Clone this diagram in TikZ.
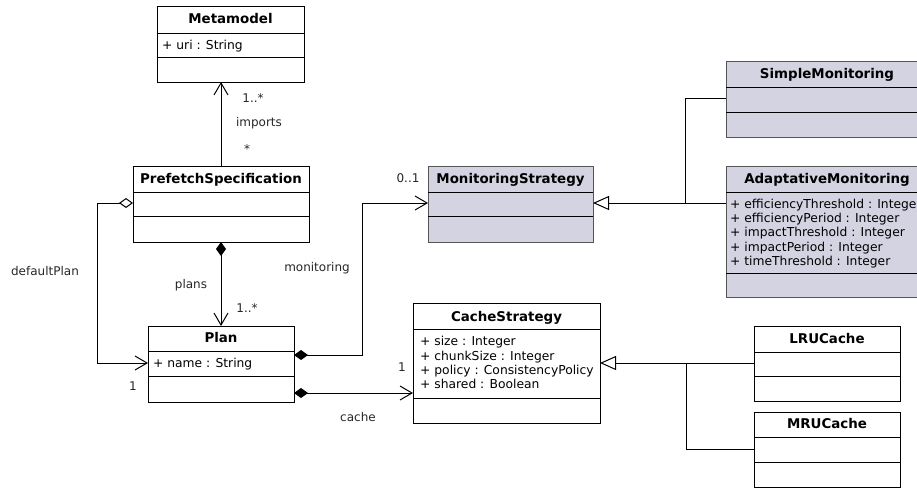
\documentclass[tikz,border=0pt]{standalone}
\usepackage{fontspec}
\setmainfont{DejaVu Sans}
\usetikzlibrary{arrows.meta,calc}
\definecolor{lav}{RGB}{211,211,226}
\definecolor{edgegray}{RGB}{85,85,85}
\tikzset{
  cls/.style={draw=black, line width=1pt, anchor=north west, inner sep=0pt, outer sep=0pt},
  colcls/.style={cls, draw=edgegray, fill=lav},
  divider/.style={line width=1pt},
  ttl/.style={font=\fontsize{13.4}{16}\selectfont\bfseries, anchor=base, inner sep=0pt},
  attr/.style={font=\fontsize{12.3}{14.4}\selectfont, anchor=base west, inner sep=0pt},
  lbl/.style={font=\fontsize{12}{14.4}\selectfont, anchor=base, inner sep=0pt, text=black!85},
  conn/.style={line width=1pt},
  navarr/.style={-{Straight Barb[length=12pt,width=14pt,line width=1pt]}},
  compos/.style={{Diamond[length=14pt,width=10pt]}-{Straight Barb[length=12pt,width=14pt,line width=1pt]}},
  aggreg/.style={{Diamond[open,length=14pt,width=10pt,line width=1pt]}-{Straight Barb[length=12pt,width=14pt,line width=1pt]}},
  genline/.style={{Triangle[open,length=16pt,width=14pt,line width=1pt]}-},
}
\begin{document}
\begin{tikzpicture}[x=1pt,y=-1pt]
\useasboundingbox (0,0) rectangle (917,491);
\clip (0,0) rectangle (917,491);

% ---- Metamodel
\node[cls, minimum width=147pt, minimum height=76pt] (meta) at (157,6) {};
\draw[divider] (157,33) -- (304,33);
\draw[divider] (157,57) -- (304,57);
\node[ttl] (metat) at (230.5,23.9) {Metamodel};
\node[attr] (metaa) at (162,49.4) {+ uri : String};

% ---- PrefetchSpecification
\node[cls, minimum width=176pt, minimum height=76pt] (pref) at (133,166) {};
\draw[divider] (133,192) -- (309,192);
\draw[divider] (133,216) -- (309,216);
\node[ttl] (preft) at (221,183.9) {PrefetchSpecification};

% ---- Plan
\node[cls, minimum width=146pt, minimum height=76pt] (plan) at (148,326) {};
\draw[divider] (148,351) -- (294,351);
\draw[divider] (148,376) -- (294,376);
\node[ttl] (plant) at (221,342.9) {Plan};
\node[attr] (plana) at (153,367.4) {+ name : String};

% ---- MonitoringStrategy
\node[colcls, minimum width=165pt, minimum height=76pt] (ms) at (428,166) {};
\draw[divider] (428,192) -- (593,192);
\draw[divider] (428,216) -- (593,216);
\node[ttl] (mst) at (510.5,183.9) {MonitoringStrategy};

% ---- SimpleMonitoring
\node[colcls, minimum width=202pt, minimum height=76pt] (sm) at (726,61) {};
\draw[divider] (726,87) -- (928,87);
\draw[divider] (726,112) -- (928,112);
\node[ttl] (smt) at (827,78.9) {SimpleMonitoring};

% ---- AdaptativeMonitoring
\node[colcls, minimum width=202pt, minimum height=131pt] (am) at (726,166) {};
\draw[divider] (726,192) -- (928,192);
\draw[divider] (726,273) -- (928,273);
\node[ttl] (amt) at (827,183.9) {AdaptativeMonitoring};
\node[attr] (ama1) at (730,208.4) {+ efficiencyThreshold : Integer};
\node[attr] (ama2) at (730,222.6) {+ efficiencyPeriod : Integer};
\node[attr] (ama3) at (730,236.8) {+ impactThreshold : Integer};
\node[attr] (ama4) at (730,251.0) {+ impactPeriod : Integer};
\node[attr] (ama5) at (730,265.2) {+ timeThreshold : Integer};

% ---- CacheStrategy
\node[cls, minimum width=187pt, minimum height=120pt] (cs) at (413,303) {};
\draw[divider] (413,329) -- (600,329);
\draw[divider] (413,398) -- (600,398);
\node[ttl] (cst) at (506.5,321.9) {CacheStrategy};
\node[attr] (csa1) at (420,345.6) {+ size : Integer};
\node[attr] (csa2) at (420,360.0) {+ chunkSize : Integer};
\node[attr] (csa3) at (420,374.4) {+ policy : ConsistencyPolicy};
\node[attr] (csa4) at (420,388.8) {+ shared : Boolean};

% ---- LRUCache
\node[cls, minimum width=146pt, minimum height=75pt] (lru) at (754,326) {};
\draw[divider] (754,352) -- (900,352);
\draw[divider] (754,376) -- (900,376);
\node[ttl] (lrut) at (827,343.9) {LRUCache};

% ---- MRUCache
\node[cls, minimum width=146pt, minimum height=75pt] (mru) at (754,412) {};
\draw[divider] (754,437) -- (900,437);
\draw[divider] (754,462) -- (900,462);
\node[ttl] (mrut) at (827,428.9) {MRUCache};

% ---- connectors
% imports
\draw[conn, navarr] (pref.north) -- (pref.north |- meta.south);
\node[lbl] (imp1) at (253,102.4) {1..*};
\node[lbl] (impl) at (259,126.4) {imports};
\node[lbl] (imp2) at (247,153) {*};

% defaultPlan
\draw[conn, aggreg] ($(pref.north west)+(0,37)$) -- ++(-36,0) |- ($(plan.north west)+(0,37)$);
\node[lbl] (dpl) at (45,275.4) {defaultPlan};
\node[lbl] (dp1) at (133,390.4) {1};

% plans
\draw[conn, compos] (pref.south) -- (plan.north);
\node[lbl] (pll) at (191,288.4) {plans};
\node[lbl] (pl1) at (247,312.4) {1..*};

% monitoring
\draw[conn, compos] ($(plan.north east)+(0,29)$) -- ++(68,0) |- ($(ms.north west)+(0,37)$);
\node[lbl] (mol) at (317,271.4) {monitoring};
\node[lbl] (mo1) at (408,182.4) {0..1};

% cache
\draw[conn, compos] ($(plan.north east)+(0,67)$) -- ($(cs.north west)+(0,90)$);
\node[lbl] (cal) at (358,421.4) {cache};
\node[lbl] (ca1) at (402,371.4) {1};

% generalisation: monitoring
\draw[conn, genline] ($(ms.north east)+(0,37)$) -- ($(am.north west)+(0,37)$);
\draw[conn] ($(ms.north east)+(92,37)$) |- ($(sm.north west)+(0,37)$);

% generalisation: cache
\draw[conn, genline] ($(cs.north east)+(0,60)$) -- ($(lru.north west)+(0,37)$);
\draw[conn] ($(cs.north east)+(86,60)$) |- ($(mru.north west)+(0,37)$);
\end{tikzpicture}
\end{document}
